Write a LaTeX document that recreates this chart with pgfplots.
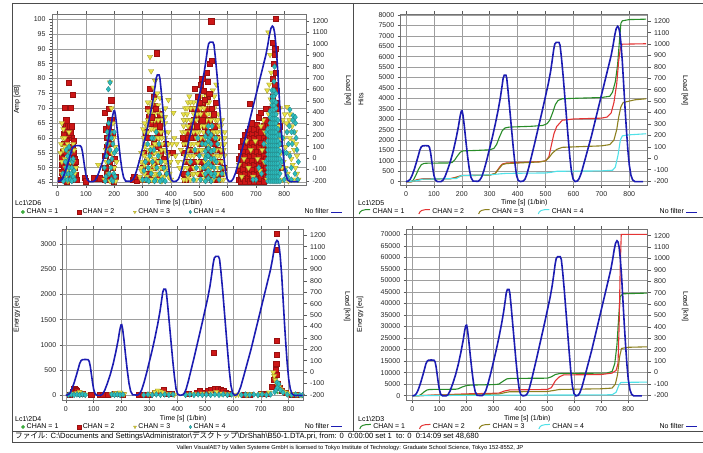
\documentclass[border=0pt]{standalone}
\usepackage{fontspec}
\setmainfont{Liberation Sans}
\newfontfamily\jp{Noto Sans CJK JP}
\usepackage{pgfplots}
\pgfplotsset{compat=1.18}
\usepackage{pgfplotstable}

\definecolor{loadblue}{RGB}{28,28,178}
\definecolor{g1}{RGB}{40,140,40}
\definecolor{r2}{RGB}{228,52,52}
\definecolor{o3}{RGB}{140,128,30}
\definecolor{c4}{RGB}{80,225,232}
\definecolor{sqred}{RGB}{205,22,22}
\definecolor{triyel}{RGB}{232,226,70}
\definecolor{triedge}{RGB}{160,150,40}
\definecolor{diacyan}{RGB}{45,188,190}
\definecolor{dotgreen}{RGB}{60,170,60}

\pgfplotstableread{
t L
0 -205
8 -200
15 -185
22 -150
30 -95
38 -30
45 30
50 75
55 100
60 108
70 110
80 108
84 95
88 50
92 -20
96 -90
100 -150
105 -190
112 -205
125 -205
132 -195
140 -160
150 -95
160 -20
170 70
180 180
188 280
194 370
198 412
201 415
204 380
209 280
215 140
221 10
227 -100
233 -170
240 -200
258 -203
265 -190
272 -160
280 -100
290 -10
300 90
310 190
320 300
330 420
338 530
344 630
348 700
352 728
358 728
361 700
366 580
372 420
378 260
384 100
390 -40
396 -150
402 -195
410 -205
420 -200
426 -185
432 -150
440 -80
450 20
460 120
470 225
480 330
490 435
500 545
510 655
518 760
524 860
529 950
533 1000
538 1015
548 1015
552 990
557 880
563 720
569 540
575 360
581 180
587 10
593 -120
599 -185
606 -205
614 -200
620 -180
628 -130
636 -60
645 20
655 110
665 200
675 300
685 400
695 500
705 600
715 700
725 800
735 900
742 990
748 1080
753 1135
758 1155
762 1145
766 1100
770 1010
775 850
780 640
785 430
790 240
795 70
800 -60
806 -150
812 -190
820 -205
850 -205
}\loadtab

\pgfplotstableread{
t v
0 0
15 5
25 50
35 300
45 600
55 820
65 880
80 890
150 900
165 920
175 1050
185 1250
195 1420
205 1480
250 1500
300 1530
315 1600
325 1800
335 2150
345 2450
355 2580
370 2620
450 2660
490 2700
505 2780
515 2950
525 3300
535 3700
545 3900
560 3980
600 4000
700 4040
730 4100
740 4300
750 4800
758 5600
765 6800
770 7600
775 7720
800 7780
860 7800
}\hitsA
\pgfplotstableread{
t v
0 0
20 0
40 100
60 140
160 150
180 220
200 300
300 320
320 400
335 700
345 850
360 900
480 960
500 1000
512 1200
520 1700
530 2300
540 2650
550 2800
560 2950
600 3010
700 3050
720 3100
735 3300
745 3800
755 4700
762 5800
768 6400
775 6600
860 6620
}\hitsB
\pgfplotstableread{
t v
0 0
20 0
40 80
60 120
160 140
180 200
200 290
300 310
320 400
335 650
345 820
360 870
480 950
500 1000
512 1150
525 1380
540 1550
560 1650
700 1720
730 1780
745 2000
755 2500
762 3100
770 3600
778 3800
820 3930
860 3980
}\hitsC
\pgfplotstableread{
t v
0 0
40 50
60 120
180 150
200 300
300 330
340 380
360 400
500 420
520 450
540 500
700 520
740 550
750 700
760 1300
768 2000
775 2200
800 2250
860 2300
}\hitsD

\pgfplotstableread{
t v
0 0
25 0
35 800
45 1800
55 2500
65 2700
160 2800
170 3000
185 3800
200 4400
215 4600
300 4800
320 5000
335 6200
350 7300
365 7500
500 7600
515 8200
530 9200
545 9600
600 9700
720 9800
740 10500
750 14000
758 22000
765 35000
770 43000
780 44200
870 44500
}\enA
\pgfplotstableread{
t v
0 0
40 100
200 800
320 1100
340 2000
360 2500
500 2700
515 3500
530 6500
545 8200
560 9000
700 9200
740 9800
755 11000
762 14000
766 30000
770 55000
774 70000
870 70000
}\enB
\pgfplotstableread{
t v
0 0
40 100
200 500
320 700
345 1400
360 1700
500 1800
530 2400
545 2700
700 3000
740 3300
752 5000
760 9000
768 17000
775 20500
800 21000
870 21200
}\enC
\pgfplotstableread{
t v
0 0
200 150
360 250
560 300
740 400
755 1500
765 4500
772 5700
800 5800
870 5900
}\enD

\pgfplotsset{
  base/.style={
    scale only axis, anchor=south west,
    font=\fontsize{7}{8}\selectfont,
    tick label style={font=\fontsize{7}{8}\selectfont, black!85},
    /pgf/number format/assume math mode=true,
    /pgf/number format/1000 sep={},
    scaled ticks=false,
    tick align=outside,
    major tick length=3pt, minor tick length=1.8pt,
    every tick/.style={black!65, line width=0.5pt},
    axis line style={black!55, line width=0.6pt},
    grid style={black!38, line width=0.5pt},
    clip=true,
  },
  mainax/.style={base, xtick={0,100,...,800}, xtick pos=both, ytick pos=left,
    xmajorgrids, ymajorgrids, xlabel={Time [s] (1/bin)},
    legend columns=4,
  },
  loadax/.style={base, axis y line*=right, axis x line=none,
    ymin=#1, ytick={-200,-100,...,1200}, ylabel={Load [kN]},
    legend plot pos=right,
    legend style={draw=none, fill=none, font=\fontsize{7}{8}\selectfont, anchor=east},
  },
  loadline/.style={loadblue, line width=1.6pt,
    legend image code/.code={\draw[##1, line width=1pt] (0pt,0pt) -- (11pt,0pt);}},
  scat/.style={only marks,
    legend image code/.code={\draw[##1, mark size=1.7pt] plot coordinates {(3pt,0pt)};}},
  sG/.style={scat, mark=*, mark size=1pt, mark options={fill=dotgreen, draw=dotgreen}},
  sR/.style={scat, mark=square*, mark size=2.6pt, mark options={fill=sqred, draw=sqred!75!black, line width=0.3pt}},
  sY/.style={scat, mark=triangle*, mark size=3.1pt, mark options={rotate=180, fill=triyel, draw=triedge, line width=0.3pt}},
  sC/.style={scat, mark=diamond*, mark size=2.9pt, mark options={fill=diacyan, draw=diacyan!70!black, line width=0.3pt}},
  cum/.style={line width=1.1pt,
    legend image code/.code={\draw[##1, line width=1pt] (0pt,-2pt) .. controls (1pt,1.5pt) and (3pt,2.5pt) .. (11pt,2.5pt);}},
}

\begin{document}
\begin{tikzpicture}[x=1pt,y=1pt]
\useasboundingbox (0,0) rectangle (703,452);
\fill[white] (0,0) rectangle (703,452);

% ---------------- Top-left: Amplitude ----------------
\begin{axis}[mainax, at={(52pt,267pt)}, width=254pt, height=171pt,
  xmin=-20, xmax=877, ymin=44.2, ymax=101.7,
  ytick={45,50,...,100}, minor y tick num=4,
  ylabel={Amp [dB]},
  x label style={at={(axis description cs:0.5,-0.105)},anchor=center},
  y label style={at={(axis description cs:-0.138,0.5)},anchor=center},
  legend style={at={(axis description cs:-0.134,-0.158)}, anchor=west, draw=none, fill=none,
    font=\fontsize{7}{8}\selectfont, /tikz/every even column/.append style={column sep=17pt}},
]
\addplot[sG] coordinates {(25,46) (40,48) (180,47) (330,46) (520,47) (760,46) (800,46)};
\addlegendentry{CHAN = 1}
\addplot[sR] coordinates {
(12,46) (13,48.5) (15,51) (14,53.5) (18,47) (18,55.5) (20,50.5) (22,58) (21,61.5) (25,63) (28,64.5) (26,70.3) (32,59) (35,64) (38,55) (40,78.7) (42,64) (47,70.3) (48,60) (48,52) (52,74.5) (52,57) (55,55) (58,53) (60,50) (62,47.5) (22,46) (30,48) (35,51) (40,46) (55,47) (65,46) (45,56) (38,61) (30,66) (44,62) (28,55) (33,45.5) (50,64) (57,59) (63,52) (45,47)
(96,46.6) (126,46.5) (143,46.8) (149,46.5) (100,45.5)
(167,68.6) (189,72.7) (170,63) (175,60) (180,64) (185,66) (172,57) (178,55) (183,52) (188,58) (193,61) (168,50) (175,48) (182,46) (190,47) (195,50) (200,53) (168,54) (186,62) (197,45.5) (205,47) (179,70) (165,46) (192,66)
(266,46) (278,45.8) (270,47)
(350,88.5) (326,76.5) (340,74) (318,70) (322,67) (328,65) (335,68) (345,64) (350,60) (355,57) (340,58) (330,55) (315,52) (320,48) (310,46) (325,60) (360,62) (365,55) (370,50) (375,53) (395,55) (405,55) (385,48) (300,50) (305,55) (312,62) (338,50) (348,52) (358,47) (332,46) (342,71) (352,66) (362,68) (298,46) (380,58)
(542,99.3) (485,76.5) (495,74) (500,72) (505,78) (510,80) (515,76) (520,73) (525,82) (530,79) (538,85) (544,86) (535,75) (545,70) (550,68) (490,68) (480,66) (470,64) (460,62) (455,60) (450,58) (445,55) (465,56) (475,60) (485,62) (495,64) (505,66) (515,68) (525,70) (535,66) (545,62) (555,64) (560,60) (565,56) (570,52) (575,48) (580,55) (510,60) (520,58) (530,56) (540,54) (550,52) (500,58) (490,55) (480,52) (470,50) (460,48) (450,46) (500,48) (515,50) (530,47) (545,46) (555,48) (565,46) (520,64) (540,60) (445,48) (455,52) (585,50) (560,72) (505,52) (498,70) (512,72) (528,74) (440,60) (475,70)
(638,46) (638,49) (638,53)
(646,45.5) (646,48) (646,51) (646,54) (646,57)
(654,46.5) (654,49.5) (654,52.5) (654,55.5) (654,59)
(662,45.5) (662,48) (662,51) (662,54) (662,57) (662,61)
(670,46.5) (670,49.5) (670,52.5) (670,55.5) (670,58.5) (670,62)
(678,45.5) (678,48) (678,51) (678,54) (678,57) (678,60) (678,63) (678,71.5)
(686,46.5) (686,49.5) (686,52.5) (686,55.5) (686,58.5) (686,61.5) (686,65)
(694,45.5) (694,48) (694,51) (694,54) (694,57) (694,60) (694,63)
(702,46.5) (702,49.5) (702,52.5) (702,55.5) (702,58.5) (702,61.5) (702,64.5)
(710,45.5) (710,48) (710,51) (710,54) (710,57) (710,60) (710,63) (710,67)
(718,46.5) (718,49.5) (718,52.5) (718,55.5) (718,58.5) (718,62) (718,68.5)
(726,45.5) (726,48) (726,51) (726,54) (726,57) (726,60) (726,64)
(734,47) (734,50) (734,53) (734,56) (734,59) (734,62) (734,66) (734,70)
(742,48) (742,52) (742,56) (742,60) (742,64)
(771,100.2) (760,92) (768,90) (765,88) (762,85) (770,82) (758,80) (766,78) (773,76) (760,74) (768,72) (775,70) (755,67) (764,65) (750,64) (748,70) (780,58) (790,50) (785,64) (776,62)
};
\addlegendentry{CHAN = 2}
\addplot[sY] coordinates {
(15,65) (18,60) (20,56) (25,53) (28,50) (30,47) (35,58) (40,62) (42,55) (48,50) (50,46) (55,52) (60,48) (65,50) (10,55) (12,58) (25,60) (38,45.5) (45,48) (32,53) (58,56) (20,63) (35,45.5)
(15,48) (25,57) (35,49) (45,52) (55,58) (15,52)
(185,78.7) (190,70) (195,65) (188,62) (178,58) (172,52) (180,48) (192,55) (200,50) (205,45.5) (198,60) (165,46) (170,56) (185,45.5) (203,57) (143,51) (208,52)
(326,87.3) (330,82.5) (344,79.2) (361,73.5) (391,72.8) (409,68.5) (380,70) (370,66) (365,62) (355,66) (345,70) (335,72) (325,68) (315,64) (305,60) (300,55) (295,50) (290,47) (310,52) (320,56) (330,60) (340,63) (350,58) (360,54) (370,58) (380,62) (385,55) (390,50) (395,48) (400,46) (375,47) (365,50) (355,52) (345,48) (335,46) (325,50) (315,47) (305,46) (312,58) (342,55) (352,46) (322,45.5) (302,63) (318,72) (333,66) (348,62) (368,45.5) (358,60) (338,51) (398,52) (404,58) (412,60) (420,58) (416,54) (425,52) (338,77) (352,75)
(295,46) (295,49) (295,52) (295,55)
(307,48) (307,51) (307,54) (307,57) (307,62) (307,65)
(319,46) (319,50) (319,53) (319,60) (319,62) (319,66) (319,69)
(331,46) (331,49) (331,52) (331,54) (331,57) (331,63) (331,69) (331,71)
(343,47) (343,50) (343,53) (343,58) (343,60) (343,66) (343,68) (343,73)
(355,48) (355,50) (355,55) (355,60) (355,63) (355,69) (355,71)
(367,47) (367,52) (367,56) (367,60) (367,64) (367,68)
(379,49) (379,52) (379,56) (379,60) (379,65) (379,67)
(391,47) (391,51) (391,54) (391,58) (391,62)
(440,62) (445,68) (450,70) (455,66) (460,72) (465,74) (470,70) (480,72) (475,66) (485,70) (490,60) (495,58) (500,62) (505,70) (510,72) (515,62) (520,60) (525,66) (530,62) (535,58) (540,68) (545,64) (550,58) (555,60) (560,56) (565,60) (570,64) (575,58) (580,52) (585,46) (590,50) (445,50) (450,54) (455,46) (460,56) (465,52) (470,58) (475,48) (480,56) (485,50) (490,46) (495,52) (500,54) (505,46) (510,56) (515,48) (520,52) (525,46) (530,50) (535,52) (540,48) (545,56) (550,46) (555,52) (560,48) (565,52) (570,46) (575,54) (580,60) (586,56) (525,74) (535,72) (548,76) (553,70) (558,66) (562,62) (470,62) (480,62) (490,66) (460,64) (450,62) (580,66) (590,62) (568,68) (460,47) (560,78) (435,56) (430,50)
(445,46) (445,52) (445,58) (445,64) (445,66)
(457,50) (457,54) (457,58) (457,68) (457,70)
(469,46) (469,54) (469,60) (469,66) (469,72)
(481,48) (481,50) (481,54) (481,58) (481,64) (481,68)
(493,48) (493,56) (493,62) (493,68) (493,72)
(505,50) (505,56) (505,60) (505,64) (505,68) (505,74)
(517,46) (517,54) (517,58) (517,64) (517,70)
(529,52) (529,58) (529,64) (529,68) (529,72)
(541,50) (541,58) (541,62) (541,66) (541,70)
(553,50) (553,54) (553,56) (553,62) (553,68) (553,74)
(565,48) (565,50) (565,54) (565,58) (565,62) (565,66)
(577,46) (577,50) (577,56) (577,62) (577,64)
(589,48) (589,54) (589,58) (589,60)
(640,51) (650,47) (658,53) (666,59) (674,50) (682,56) (690,47) (698,59) (706,53) (714,49) (722,56) (730,52) (738,58) (744,95.5) (750,88) (754,82) (747,78) (752,73) (740,76) (745,68) (758,71) (772,68) (780,64) (788,60) (795,66) (800,60) (805,57) (810,62) (815,55) (820,60) (825,53) (830,51) (835,56) (840,50) (845,48) (850,46) (838,62) (828,64) (818,66) (808,65) (798,52) (788,55) (778,57) (768,54) (758,56) (748,58) (760,62) (795,46) (812,48) (825,46) (842,58) (832,59) (785,70) (802,68) (810,70.5) (820,68) (792,50) (805,50) (815,45.5) (835,46) (845,54) (775,47) (740,46) (732,62) (726,66) (718,64)
};
\addlegendentry{CHAN = 3}
\addplot[sR, forget plot] coordinates {
(485,76.5) (505,78) (510,80) (525,82) (530,79) (538,85) (544,86) (520,73) (500,72) (495,74) (515,76) (535,75) (545,70) (550,68) (490,64) (510,66) (530,62) (470,60) (555,58) (332,67) (346,70) (318,60) (360,64)
(771,100.2) (760,92) (768,90) (765,88) (762,85) (770,82) (758,80) (766,78) (773,76) (760,74) (768,72) (775,70) (678,71.5) (710,67) (718,68.5) (734,70)
};
\addplot[sC] coordinates {
(25,46) (28,48) (30,50) (32,52) (35,46) (38,48) (40,50) (42,53) (45,46) (48,48) (50,50) (52,52) (55,47) (58,49) (35,54) (45,55) (30,56) (40,57) (27,52) (55,53) (60,46) (50,45.5) (20,45.5) (18,48)
(179,76.4) (185,78.7) (165,50) (170,47) (172,54) (175,58) (178,60) (180,52) (182,48) (185,56) (188,50) (190,46) (192,53) (195,58) (198,48) (200,55) (203,47) (168,45.5) (175,62) (185,62) (195,45.5) (200,62) (208,56) (180,65) (190,60)
(300,46) (305,49) (310,52) (315,46) (320,50) (325,54) (330,48) (335,52) (340,56) (345,46) (350,50) (355,54) (360,48) (365,52) (370,46) (375,50) (380,45.5) (318,58) (338,60) (348,62) (358,58) (328,56) (312,46) (385,48) (342,45.5) (362,45.5) (322,45.5) (332,60)
(460,48) (470,52) (480,46) (490,50) (500,54) (505,46) (510,58) (515,50) (525,54) (535,60) (545,64) (555,48) (560,52) (565,58) (570,46) (575,50) (580,48) (558,60) (495,60) (485,56)
(522,45.5) (522,48) (522,50.5) (522,53) (522,55.5) (522,58) (522,60.5)
(532,46.5) (532,49) (532,51.5) (532,54) (532,56.5) (532,59) (532,62) (532,64)
(542,45.5) (542,48) (542,50.5) (542,53) (542,55.5) (542,58) (542,61)
(552,47) (552,50) (552,53) (552,56)
(700,46) (720,48) (735,52) (690,46) (710,50) (728,58) (738,62)
(742,45.5) (742,47) (742,48.5) (742,50) (742,51.5) (742,53) (742,54.5) (742,56) (742,57.5) (742,59) (742,61) (742,63)
(750,45.5) (750,47) (750,48.5) (750,50) (750,51.5) (750,53) (750,54.5) (750,56) (750,57.5) (750,59) (750,60.5) (750,62) (750,63.5) (750,65) (750,67) (750,69)
(757,45.5) (757,47) (757,48.5) (757,50) (757,51.5) (757,53) (757,54.5) (757,56) (757,57.5) (757,59) (757,60.5) (757,62) (757,63.5) (757,65) (757,66.5) (757,68) (757,69.5) (757,71) (757,72.5) (757,74) (757,76)
(764,45.5) (764,47) (764,48.5) (764,50) (764,51.5) (764,53) (764,54.5) (764,56) (764,57.5) (764,59) (764,60.5) (764,62) (764,63.5) (764,65) (764,66.5) (764,68) (764,69.5) (764,71) (764,72.5) (764,74) (764,76) (764,79) (766,84)
(771,45.5) (771,47) (771,48.5) (771,50) (771,51.5) (771,53) (771,54.5) (771,56) (771,57.5) (771,59) (771,60.5) (771,62) (771,63.5) (771,65) (771,66.5) (771,68) (771,70) (771,72) (771,75)
(778,45.5) (778,47) (778,48.5) (778,50) (778,51.5) (778,53) (778,54.5) (778,56) (778,57.5) (778,59) (778,61) (778,63) (778,66)
(785,45.5) (785,48) (785,50.5) (785,53) (785,55.5) (785,58) (785,61)
(792,52) (795,60) (800,55) (805,49) (810,62) (815,58) (820,54) (825,50) (830,66) (835,62) (840,65) (845,56) (850,52) (800,46) (812,47) (825,46) (838,48) (848,46) (818,64) (808,55) (828,58) (842,60) (832,67.5) (826,62) (820,69.5) (839,67)
};
\addlegendentry{CHAN = 4}
\end{axis}
\begin{axis}[loadax=-235, at={(52pt,267pt)}, width=254pt, height=171pt,
  xmin=-20, xmax=877, ymax=1261,
  y label style={at={(axis description cs:1.165,0.55)},anchor=center,rotate=180},
  legend style={at={(axis description cs:1.157,-0.158)}},
]
\addplot[loadline] table[x=t,y=L] {\loadtab};
\addlegendentry{No filter}
\end{axis}

% ---------------- Top-right: Hits ----------------
\begin{axis}[mainax, at={(400.7pt,267pt)}, width=247pt, height=171pt,
  xmin=-19, xmax=866, ymin=-158, ymax=8048,
  ytick={0,500,...,8000},
  ylabel={Hits},
  x label style={at={(axis description cs:0.5,-0.105)},anchor=center},
  y label style={at={(axis description cs:-0.161,0.5)},anchor=center},
  legend style={at={(axis description cs:-0.183,-0.158)}, anchor=west, draw=none, fill=none,
    font=\fontsize{7}{8}\selectfont, /tikz/every even column/.append style={column sep=12pt}},
]
\addplot[cum, g1] table[x=t,y=v] {\hitsA}; \addlegendentry{CHAN = 1}
\addplot[cum, r2] table[x=t,y=v] {\hitsB}; \addlegendentry{CHAN = 2}
\addplot[cum, o3] table[x=t,y=v] {\hitsC}; \addlegendentry{CHAN = 3}
\addplot[cum, c4] table[x=t,y=v] {\hitsD}; \addlegendentry{CHAN = 4}
\end{axis}
\begin{axis}[loadax=-235, at={(400.7pt,267pt)}, width=247pt, height=171pt,
  xmin=-19, xmax=866, ymax=1264,
  y label style={at={(axis description cs:1.151,0.55)},anchor=center,rotate=180},
  legend style={at={(axis description cs:1.216,-0.158)}},
]
\addplot[loadline] table[x=t,y=L] {\loadtab};
\addlegendentry{No filter}
\end{axis}

% ---------------- Bottom-left: Energy scatter ----------------
\begin{axis}[mainax, at={(62.7pt,52pt)}, width=241pt, height=170.7pt,
  xmin=-11, xmax=854, ymin=-100, ymax=3299,
  ytick={0,500,...,3000},
  ylabel={Energy [eu]},
  x label style={at={(axis description cs:0.5,-0.111)},anchor=center},
  y label style={at={(axis description cs:-0.19,0.5)},anchor=center},
  legend style={at={(axis description cs:-0.185,-0.158)}, anchor=west, draw=none, fill=none,
    font=\fontsize{7}{8}\selectfont, /tikz/every even column/.append style={column sep=17pt}},
]
\addplot[sG] coordinates {(30,10) (200,20) (350,10) (540,20) (760,40) (780,20)};
\addlegendentry{CHAN = 1}
\addplot[sR] coordinates {
(25,60) (30,120) (35,100) (40,80) (45,50) (55,30) (60,20) (15,10) (91,0) (123,0) (132,0) (150,0) (175,20) (190,30) (205,10) (262,0) (275,0) (290,0) (300,10) (320,40) (335,60) (350,100) (360,30) (380,20) (440,20) (470,40) (480,90) (500,40) (510,80) (520,110) (530,849) (535,120) (545,130) (555,110) (565,90) (575,50) (585,20) (640,10) (660,0) (700,20) (720,30) (740,160) (745,300) (750,420) (752,500) (755,620) (757,400) (756,800) (760,230) (758,1080) (756,2887) (758,3220) (768,150) (775,80) (790,40) (810,10) (830,0)
};
\addlegendentry{CHAN = 2}
\addplot[sY] coordinates {
(20,30) (40,40) (50,60) (60,30) (70,10) (165,20) (180,40) (195,50) (210,20) (300,20) (320,60) (330,90) (340,70) (350,50) (370,20) (390,10) (430,10) (460,20) (490,30) (520,40) (540,60) (560,30) (580,20) (620,10) (660,20) (700,30) (730,50) (745,450) (748,380) (752,300) (756,250) (760,200) (765,160) (770,120) (775,90) (780,60) (790,50) (800,30) (815,20) (830,10) (845,0) (610,0) (650,0) (690,0) (720,0)
};
\addlegendentry{CHAN = 3}
\addplot[sC] coordinates {
(10,0) (20,10) (30,0) (40,10) (50,0) (60,10) (70,0) (165,10) (175,0) (185,10) (195,0) (205,10) (280,0) (295,10) (310,0) (325,10) (340,0) (355,10) (370,0) (385,10) (430,0) (445,10) (460,0) (475,10) (490,0) (505,10) (520,0) (535,10) (550,0) (565,10) (580,0) (595,10) (630,0) (645,10) (660,0) (675,10) (690,0) (705,10) (720,0) (735,10) (750,60) (755,100) (758,250) (760,150) (765,220) (770,100) (780,50) (795,10) (810,0) (825,10) (840,0) (850,0)
};
\addlegendentry{CHAN = 4}
\end{axis}
\begin{axis}[loadax=-246, at={(62.7pt,52pt)}, width=241pt, height=170.7pt,
  xmin=-11, xmax=854, ymax=1253,
  y label style={at={(axis description cs:1.18,0.55)},anchor=center,rotate=180},
  legend style={at={(axis description cs:1.176,-0.158)}},
]
\addplot[loadline] table[x=t,y=L] {\loadtab};
\addlegendentry{No filter}
\end{axis}

% ---------------- Bottom-right: cumulative energy ----------------
\begin{axis}[mainax, at={(406.7pt,52pt)}, width=241pt, height=170.7pt,
  xmin=-21, xmax=872, ymin=-1865, ymax=72170,
  ytick={0,5000,...,70000},
  ylabel={Energy [eu]},
  x label style={at={(axis description cs:0.5,-0.111)},anchor=center},
  y label style={at={(axis description cs:-0.194,0.5)},anchor=center},
  legend style={at={(axis description cs:-0.21,-0.158)}, anchor=west, draw=none, fill=none,
    font=\fontsize{7}{8}\selectfont, /tikz/every even column/.append style={column sep=12pt}},
]
\addplot[cum, g1] table[x=t,y=v] {\enA}; \addlegendentry{CHAN = 1}
\addplot[cum, r2] table[x=t,y=v] {\enB}; \addlegendentry{CHAN = 2}
\addplot[cum, o3] table[x=t,y=v] {\enC}; \addlegendentry{CHAN = 3}
\addplot[cum, c4] table[x=t,y=v] {\enD}; \addlegendentry{CHAN = 4}
\end{axis}
\begin{axis}[loadax=-241, at={(406.7pt,52pt)}, width=241pt, height=170.7pt,
  xmin=-21, xmax=872, ymax=1256,
  y label style={at={(axis description cs:1.155,0.55)},anchor=center,rotate=180},
  legend style={at={(axis description cs:1.221,-0.158)}},
]
\addplot[loadline] table[x=t,y=L] {\loadtab};
\addlegendentry{No filter}
\end{axis}

% ---------------- frames and text ----------------
\begin{scope}[line width=0.9pt, black!70]
\draw (12,449) -- (703,449);
\draw (12,449) -- (12,10);
\draw (353,449) -- (353,21);
\draw (12,235) -- (703,235);
\draw (12,21) -- (703,21);
\draw (12,10) -- (703,10);
\end{scope}
\begin{scope}[font=\fontsize{7}{8}\selectfont]
\node[anchor=west, inner sep=0] at (15,249) {Lc1\textbackslash 2D6};
\node[anchor=west, inner sep=0] at (358,249) {Lc1\textbackslash 2D5};
\node[anchor=west, inner sep=0] at (15,33) {Lc1\textbackslash 2D4};
\node[anchor=west, inner sep=0] at (358,33) {Lc1\textbackslash 2D3};
\end{scope}
\node[anchor=west, inner sep=0, font=\fontsize{7.6}{8}\selectfont] at (15,15.5) {{\jp ファイル}: C:\textbackslash Documents and Settings\textbackslash Administrator\textbackslash{\jp デスクトップ}\textbackslash DrShah\textbackslash B50-1.DTA.pri, from: 0\ \ 0:00:00 set 1\ \ to: 0\ \ 0:14:09 set 48,680};
\node[font=\fontsize{5.8}{6}\selectfont, inner sep=0] at (350,4) {Vallen VisualAE? by Vallen Systeme GmbH is licensed to Tokyo Institute of Technology: Graduate School Science, Tokyo 152-8552, JP};
\end{tikzpicture}
\end{document}
